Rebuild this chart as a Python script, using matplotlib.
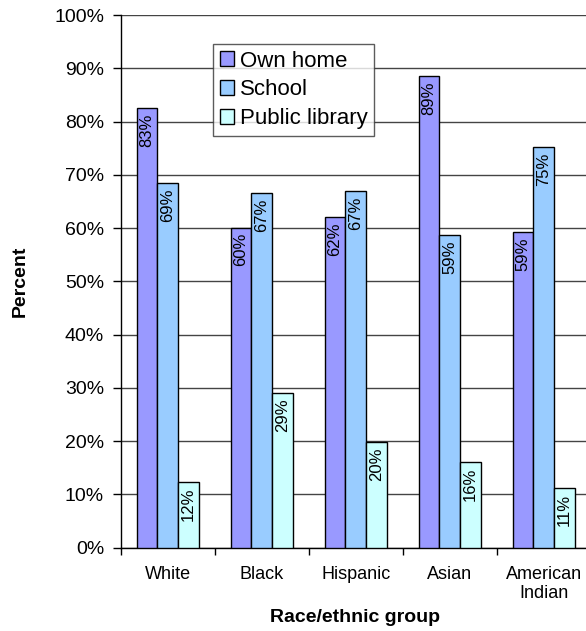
import matplotlib
matplotlib.use("Agg")
import matplotlib.pyplot as plt
import numpy as np

categories = ["White", "Black", "Hispanic", "Asian", "American\nIndian"]
series_names = ["Own home", "School", "Public library"]
own_home = [82.6, 60.1, 62.0, 88.5, 59.2]
school = [68.5, 66.5, 67.0, 58.7, 75.3]
public_library = [12.4, 29.1, 19.9, 16.0, 11.2]
label_own_home = ["83%", "60%", "62%", "89%", "59%"]
label_school = ["69%", "67%", "67%", "59%", "75%"]
label_library = ["12%", "29%", "20%", "16%", "11%"]
yticks = [0, 10, 20, 30, 40, 50, 60, 70, 80, 90, 100]
ytick_labels = [f"{v}%" for v in yticks]

colors = ["#9999FF", "#99CCFF", "#CCFFFF"]

plt.rcParams['font.family'] = ['Liberation Sans', 'DejaVu Sans']

W, H = 586, 631
fig = plt.figure(figsize=(W / 100, H / 100), dpi=100)
left, right, bottom, top = 120.7, 590.7, 547.7, 15.0
ax = fig.add_axes([left / W, (H - bottom) / H, (right - left) / W, (bottom - top) / H])

x = np.arange(len(categories))
bw = 0.22
series = [own_home, school, public_library]
labels = [label_own_home, label_school, label_library]
for i, (vals, labs, c, name) in enumerate(zip(series, labels, colors, series_names)):
    pos = x + (i - 1) * bw
    ax.bar(pos, vals, width=bw, color=c, edgecolor="black", linewidth=1.0,
           label=name, zorder=3)
    for xp, v, t in zip(pos, vals, labs):
        ax.annotate(t, xy=(xp, v), xytext=(0, -4), textcoords="offset points",
                    rotation=90, ha="center", va="top", fontsize=12, zorder=4)

ax.set_xlim(-0.5, len(categories) - 0.5)
ax.set_ylim(0, 100)
ax.set_yticks(yticks)
ax.set_yticklabels(ytick_labels, fontsize=14)
ax.yaxis.grid(True, color="#444444", linewidth=1.0, zorder=0)
ax.set_axisbelow(True)

ax.set_xticks(np.arange(-0.5, len(categories), 1.0))
ax.set_xticklabels([])
ax.set_xticks(x, minor=True)
ax.set_xticklabels(categories, minor=True, fontsize=13)
ax.tick_params(axis="x", which="minor", length=0, pad=13)
ax.tick_params(axis="x", which="major", length=5, width=1, direction="out")
ax.tick_params(axis="y", length=6, width=1, direction="out", pad=6)

for s in ["top", "right"]:
    ax.spines[s].set_visible(False)
ax.spines["left"].set_linewidth(1.0)
ax.spines["bottom"].set_linewidth(1.0)

fig.text(20 / W, 1 - 281 / H, "Percent", fontsize=14, fontweight="bold",
         rotation=90, ha="center", va="center")
fig.text(355 / W, 1 - 618 / H, "Race/ethnic group", fontsize=14, fontweight="bold",
         ha="center", va="center")

leg = ax.legend(loc="upper left", bbox_to_anchor=(213.3 / W, 1 - 44 / H),
                bbox_transform=fig.transFigure, borderaxespad=0, fontsize=16,
                frameon=True, fancybox=False, handlelength=0.65, handleheight=0.65,
                handletextpad=0.25, labelspacing=0.35, borderpad=0.3)
leg.get_frame().set_edgecolor("#333333")
leg.get_frame().set_linewidth(1.0)

fig.savefig("out.png", dpi=100)
